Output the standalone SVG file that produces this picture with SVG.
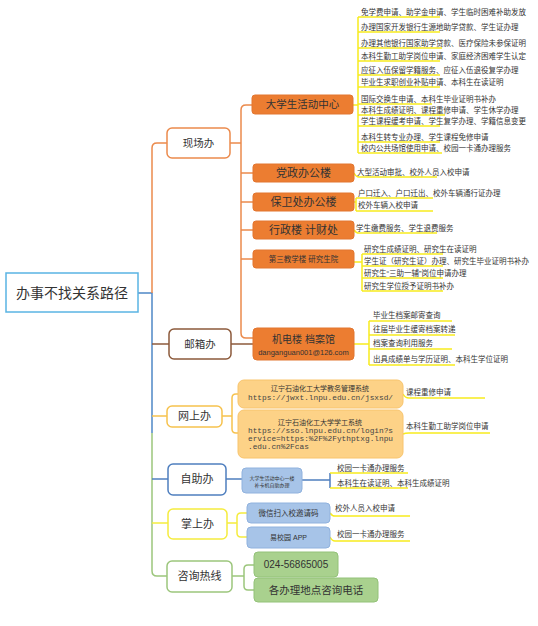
<svg xmlns="http://www.w3.org/2000/svg" width="538" height="626" viewBox="0 0 538 626">
<style>
text{font-family:"Liberation Sans","Noto Sans CJK SC",sans-serif;fill:#333}
.mid{text-anchor:middle}
.lf{font-size:7.5px}
.mono{font-family:"Liberation Mono","DejaVu Sans Mono",monospace;font-size:7.8px;fill:#444}
.l1{fill:#fff;stroke-width:1.5}
.or{fill:#ec7d31;stroke:#e27630;stroke-width:1}
.gold{fill:#fdd287;stroke:#f8c46c;stroke-width:1}
.blu{fill:#a7c4e8;stroke:#90b2de;stroke-width:1}
.grn{fill:#a9d18e;stroke:#93c278;stroke-width:1}
.c{fill:none;stroke-width:1.5}
.ul{fill:none;stroke:#f7ec1e;stroke-width:1.5}
</style>
<rect width="538" height="626" fill="#fff"/>
<g id="connectors">
  <path class="c" stroke="#4f88c6" d="M138,293 H152 V433"/>
  <path class="c" stroke="#9cc67c" d="M152,433 V571 Q152,576 157,576 H167"/>
  <path class="c" stroke="#eb8a4c" d="M152,293 V148 Q152,143 157,143 H167"/>
  <path class="c" stroke="#8c5a3b" d="M152,344 H169"/>
  <path class="c" stroke="#f6c24e" d="M152,416 H167"/>
  <path class="c" stroke="#4f7fbf" d="M152,479 H168"/>
  <path class="c" stroke="#f5ec3e" d="M152,523 H168"/>
  <path class="c" stroke="#eb8a4c" d="M230,143 H241 M253,105 H246 Q241,105 241,110 V333 Q241,338 246,338 H253 M241,173 H253 M241,202 H253 M241,230 H253 M241,259 H253"/>
  <path class="c" stroke="#8c5a3b" d="M231,344 H253"/>
  <path class="c" stroke="#f6c24e" d="M222,416 H232 M238,394 H236 Q232,394 232,398 V429 Q232,433 236,433 H238"/>
  <path class="c" stroke="#4f7fbf" d="M226,479 H242 M302,480 H330 M330,473 V488"/>
  <path class="c" stroke="#f5ec3e" d="M227,523 H237 M247,513 H241 Q237,513 237,517 V533 Q237,537 241,537 H247"/>
  <path class="c" stroke="#9cc67c" d="M232,576 H244 M254,565 H248 Q244,565 244,569 V586 Q244,590 248,590 H254"/>
  <path class="ul" d="M353,105 H358 M358,17 V153 M358,17 H440 M358,32 H440 M358,48 H442 M358,61 H440 M358,75 H440 M358,87 H440 M358,104 H432 M358,115 H445 M358,126 H440 M358,142 H440 M358,153 H442"/>
  <path class="ul" d="M354,173 Q356,177 359,177 H437"/>
  <path class="ul" d="M354,202 H356 M356,198 V211 M356,198 H433 M356,211 H433"/>
  <path class="ul" d="M354,230 Q356,233 359,233 H437"/>
  <path class="ul" d="M354,262 H362 M362,254 V291 M362,254 H443 M362,266 H443 M362,278 H443 M362,291 H443"/>
  <path class="ul" d="M354,344 H369 M369,321 V365 M369,321 H452 M369,335 H455 M369,349 H452 M369,365 H455"/>
  <path class="ul" d="M403,394 Q405,398 409,398 H485 M403,434 Q405,433 409,433 H490"/>
  <path class="ul" d="M330,473 H408 M330,488 H408"/>
  <path class="ul" d="M330,513 Q332,516 335,516 H410 M330,537 Q332,541 335,541 H410"/>
</g>
<g id="root"><rect x="6" y="273" width="132" height="39" fill="#fff" stroke="#5ab4e3" stroke-width="1.5"/><text class="mid" x="72" y="298" font-size="14">办事不找关系路径</text></g>
<g id="xianchang"><rect class="l1" x="167" y="128" width="63" height="30" rx="5" stroke="#eb8a4c"/><text class="mid" x="198.5" y="146.7" font-size="10.5">现场办</text></g>
<g id="youxiang"><rect class="l1" x="169" y="329" width="62" height="30" rx="5" stroke="#8c5a3b"/><text class="mid" x="200" y="347.7" font-size="10.5">邮箱办</text></g>
<g id="wangshang"><rect class="l1" x="167" y="406" width="55" height="21" rx="5" stroke="#f6c24e"/><text class="mid" x="194.5" y="420.3" font-size="11">网上办</text></g>
<g id="zizhu"><rect class="l1" x="168" y="464" width="58" height="31" rx="5" stroke="#4f7fbf"/><text class="mid" x="197" y="483.3" font-size="11">自助办</text></g>
<g id="zhangshang"><rect class="l1" x="168" y="509" width="59" height="30" rx="5" stroke="#f5ec3e"/><text class="mid" x="197.5" y="527.8" font-size="11">掌上办</text></g>
<g id="zixun"><rect class="l1" x="167" y="561" width="65" height="31" rx="5" stroke="#9cc67c"/><text class="mid" x="199.5" y="580.3" font-size="11">咨询热线</text></g>
<g id="huodong"><rect class="or" x="252" y="95" width="101" height="19" rx="3"/><text class="mid" x="302.5" y="108.3" font-size="10.5">大学生活动中心</text>
<g class="lf">
<text x="361" y="14.7">免学费申请、助学金申请、学生临时困难补助发放</text>
<text x="361" y="29.7">办理国家开发银行生源地助学贷款、学生证办理</text>
<text x="361" y="45.7">办理其他银行国家助学贷款、医疗保险未参保证明</text>
<text x="361" y="58.7">本科生勤工助学岗位申请、家庭经济困难学生认定</text>
<text x="361" y="72.7">应征入伍保留学籍服务、应征入伍退役复学办理</text>
<text x="361" y="84.7">毕业生求职创业补贴申请、本科生在读证明</text>
<text x="361" y="101.7">国际交换生申请、本科生毕业证明书补办</text>
<text x="361" y="112.7">本科生成绩证明、课程重修申请、学生休学办理</text>
<text x="361" y="123.7">学生课程缓考申请、学生复学办理、学籍信息变更</text>
<text x="361" y="139.7">本科生转专业办理、学生课程免修申请</text>
<text x="361" y="150.7">校内公共场馆使用申请、校园一卡通办理服务</text>
</g></g>
<g id="dangzheng"><rect class="or" x="253" y="164" width="101" height="18" rx="3"/><text class="mid" x="303.5" y="176.9" font-size="11">党政办公楼</text><text class="lf" x="357" y="174.7">大型活动审批、校外人员入校申请</text></g>
<g id="baowei"><rect class="or" x="253" y="193" width="101" height="18" rx="3"/><text class="mid" x="303.5" y="205.9" font-size="11">保卫处办公楼</text><text class="lf" x="358" y="195.7">户口迁入、户口迁出、校外车辆通行证办理</text><text class="lf" x="358" y="207.7">校外车辆入校申请</text></g>
<g id="xingzheng"><rect class="or" x="253" y="221" width="101" height="18" rx="3"/><text class="mid" x="303.5" y="233.9" font-size="11">行政楼  计财处</text><text class="lf" x="356" y="230.7">学生缴费服务、学生退费服务</text></g>
<g id="yanjiusheng"><rect class="or" x="253" y="250" width="101" height="18" rx="3"/><text class="mid" x="303.5" y="261.7" font-size="7.5">第三教学楼  研究生院</text>
<text class="lf" x="364" y="251.7">研究生成绩证明、研究生在读证明</text>
<text class="lf" x="364" y="263.7">学生证（研究生证）办理、研究生毕业证明书补办</text>
<text class="lf" x="364" y="275.7">研究生“三助一辅”岗位申请办理</text>
<text class="lf" x="364" y="288.7">研究生学位授予证明书补办</text></g>
<g id="dangan"><rect class="or" x="253" y="328" width="101" height="32" rx="4"/><text class="mid" x="303.5" y="343" font-size="10">机电楼  档案馆</text><text class="mid" x="303.5" y="355" font-size="7.5">danganguan001@126.com</text>
<text class="lf" x="373" y="317.7">毕业生档案邮寄查询</text>
<text class="lf" x="373" y="331.7">往届毕业生缓寄档案转递</text>
<text class="lf" x="373" y="345.7">档案查询利用服务</text>
<text class="lf" x="373" y="361.7">出具成绩单与学历证明、本科生学位证明</text></g>
<g id="jiaowu"><rect class="gold" x="238" y="380" width="165" height="28" rx="6"/><text class="mid" x="320" y="391" font-size="7">辽宁石油化工大学教务管理系统</text><text class="mono" x="248" y="400">https://jwxt.lnpu.edu.cn/jsxsd/</text><text class="lf" x="406" y="394.7">课程重修申请</text></g>
<g id="xuegong"><rect class="gold" x="238" y="410" width="165" height="48" rx="6"/><text class="mid" x="320" y="425" font-size="7">辽宁石油化工大学学工系统</text><text class="mono" x="248" y="433">https://sso.lnpu.edu.cn/login?s</text><text class="mono" x="248" y="441">ervice=https:%2F%2Fythptxg.lnpu</text><text class="mono" x="248" y="449">.edu.cn%2Fcas</text><text class="lf" x="406" y="428.7">本科生勤工助学岗位申请</text></g>
<g id="buka"><rect class="blu" x="242" y="468" width="60" height="25" rx="4"/><text class="mid" x="272" y="479.8" font-size="5">大学生活动中心一楼</text><text class="mid" x="272" y="486.8" font-size="5">补卡机自助办理</text><text class="lf" x="337" y="470.7">校园一卡通办理服务</text><text class="lf" x="337" y="485.7">本科生在读证明、本科生成绩证明</text></g>
<g id="weixin"><rect class="blu" x="247" y="503" width="83" height="20" rx="4"/><text class="mid" x="288.5" y="515.7" font-size="7.5">微信扫入校邀请码</text><text class="lf" x="335" y="510.7">校外人员入校申请</text></g>
<g id="yixiaoyuan"><rect class="blu" x="247" y="527" width="83" height="21" rx="4"/><text class="mid" x="288.5" y="540.3" font-size="7">易校园 APP</text><text class="lf" x="337" y="536.7">校园一卡通办理服务</text></g>
<g id="tel"><rect class="grn" x="254" y="552" width="84" height="25" rx="4"/><text class="mid" x="296" y="568" font-size="10">024-56865005</text></g>
<g id="teldesc"><rect class="grn" x="254" y="578" width="124" height="24" rx="4"/><text class="mid" x="316" y="593.7" font-size="10.5">各办理地点咨询电话</text></g>
</svg>
